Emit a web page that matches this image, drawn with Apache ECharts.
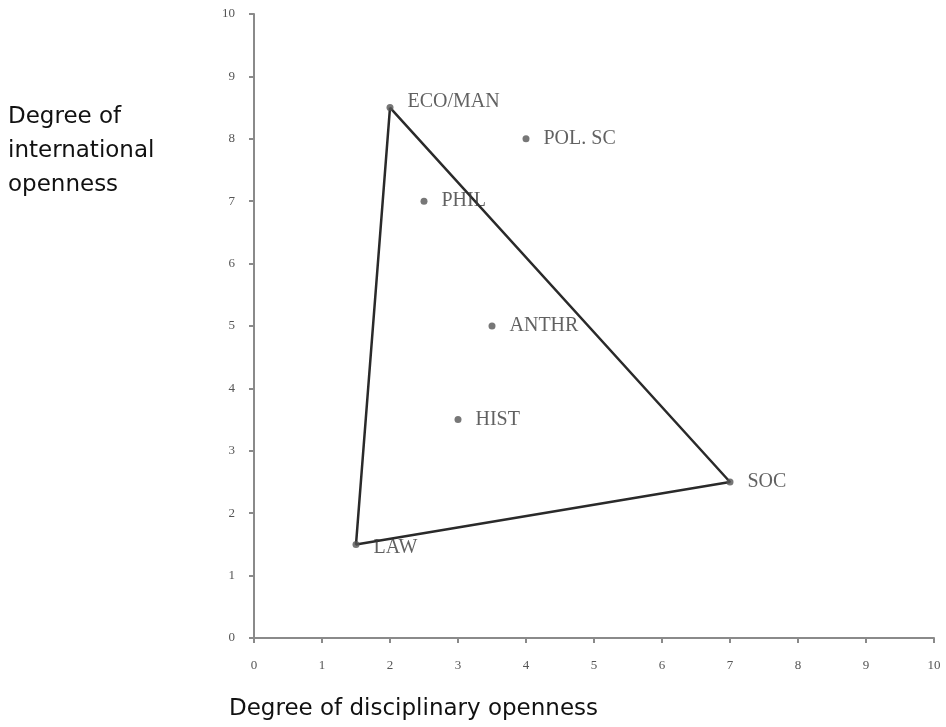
<!DOCTYPE html>
<html>
<head>
<meta charset="utf-8">
<script src="https://cdn.jsdelivr.net/npm/echarts@6/dist/echarts.min.js"></script>
<style>
  html, body { margin: 0; padding: 0; background: #fff; }
  #chart { width: 946px; height: 727px; }
</style>
</head>
<body>
<div id="chart"></div>
<script>
// disciplines and their (disciplinary, international) openness
const disciplines = ['ECO/MAN', 'POL. SC', 'PHIL', 'ANTHR', 'HIST', 'SOC', 'LAW'];
const disciplinaryOpenness = [2, 4, 2.5, 3.5, 3, 7, 1.5];
const internationalOpenness = [8.5, 8, 7, 5, 3.5, 2.5, 1.5];
// triangle corners, closed
const triangle = ['ECO/MAN', 'SOC', 'LAW', 'ECO/MAN'];
const axisTicks = [0, 1, 2, 3, 4, 5, 6, 7, 8, 9, 10];

const chart = echarts.init(document.getElementById('chart'));

const labelOffsets = {
  'ECO/MAN': [0, -6],
  'LAW': [0, 3]
};

const points = disciplines.map((name, i) => ({
  name: name,
  value: [disciplinaryOpenness[i], internationalOpenness[i]],
  label: { offset: labelOffsets[name] || [0, 0] }
}));

const trianglePts = triangle.map(n => {
  const i = disciplines.indexOf(n);
  return [disciplinaryOpenness[i], internationalOpenness[i]];
});

const axisCommon = {
  type: 'value',
  min: axisTicks[0],
  max: axisTicks[axisTicks.length - 1],
  interval: 1,
  splitLine: { show: false },
  axisLine: { show: true, lineStyle: { color: '#8a8a8a', width: 2 } },
  axisTick: { show: true, length: 5, lineStyle: { color: '#8a8a8a', width: 2 } },
  axisLabel: { color: '#555', fontFamily: 'Liberation Serif', fontSize: 13 }
};

chart.setOption({
  animation: false,
  grid: { left: 254, right: 12, top: 14, bottom: 89, containLabel: false },
  xAxis: Object.assign({}, axisCommon, {
    axisLabel: Object.assign({}, axisCommon.axisLabel, { margin: 21 })
  }),
  yAxis: Object.assign({}, axisCommon, {
    axisLabel: Object.assign({}, axisCommon.axisLabel, { margin: 19 })
  }),
  series: [
    {
      type: 'line',
      data: trianglePts,
      showSymbol: false,
      lineStyle: { color: '#2a2a2a', width: 2.5 },
      z: 2
    },
    {
      type: 'scatter',
      data: points,
      symbol: 'circle',
      symbolSize: 7,
      itemStyle: { color: '#555' },
      label: {
        show: true,
        position: 'right',
        distance: 14,
        formatter: '{b}',
        color: '#3a3a3a',
        fontFamily: 'Liberation Serif',
        fontSize: 20
      },
      z: 3
    }
  ],
  graphic: [
    {
      type: 'text',
      left: 8,
      top: 100,
      style: {
        text: 'Degree of\ninternational\nopenness',
        font: '23px "DejaVu Sans"',
        lineHeight: 34,
        fill: '#111'
      }
    },
    {
      type: 'text',
      left: 229,
      top: 698,
      style: {
        text: 'Degree of disciplinary openness',
        font: '23px "DejaVu Sans"',
        fill: '#111'
      }
    }
  ]
});
</script>
</body>
</html>
